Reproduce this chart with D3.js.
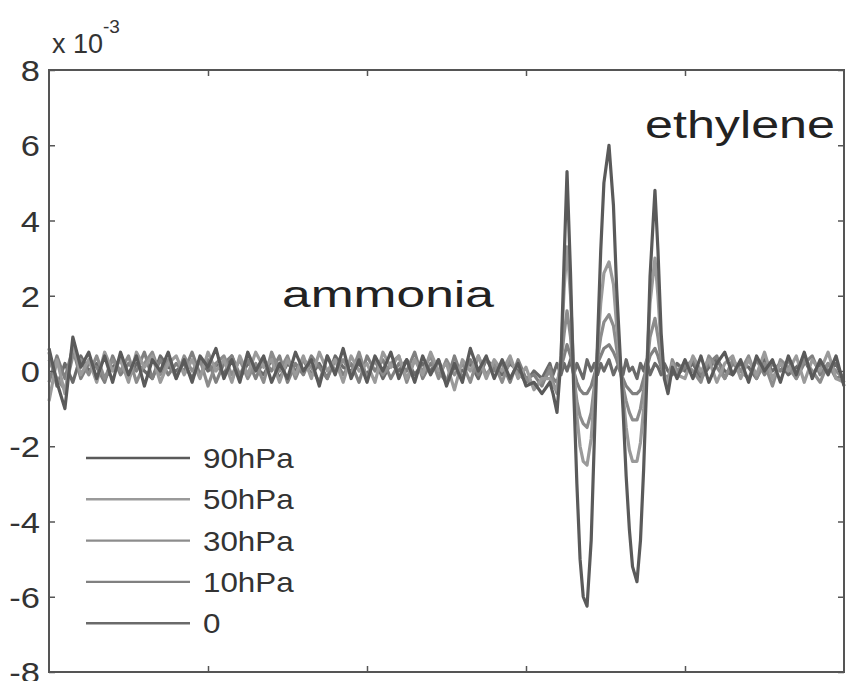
<!DOCTYPE html>
<html><head><meta charset="utf-8">
<script src="https://cdn.jsdelivr.net/npm/d3@7"></script>
<style>body{margin:0;background:#fff}svg{display:block}text{font-family:"Liberation Sans",Arial,sans-serif}</style>
</head><body>
<svg id="c" width="846" height="681"></svg>
<script>
// x sampling grid (arbitrary units; x tick labels are cut off in the reference)
const xs = [
0,0.05,0.1,0.15,0.2,0.25,0.3,0.35,
0.4,0.45,0.5,0.55,0.6,0.65,0.7,0.75,
0.8,0.85,0.9,0.95,1,1.05,1.1,1.15,
1.2,1.25,1.3,1.35,1.4,1.45,1.5,1.55,
1.6,1.65,1.7,1.75,1.8,1.85,1.9,1.95,
2,2.05,2.1,2.15,2.2,2.25,2.3,2.35,
2.4,2.45,2.5,2.55,2.6,2.65,2.7,2.75,
2.8,2.85,2.9,2.95,3,3.05,3.1,3.15,
3.17,3.195,3.22,3.24,3.258,3.28,3.3,3.32,
3.34,3.36,3.384,3.41,3.43,3.45,3.47,3.49,
3.522,3.55,3.57,3.59,3.61,3.63,3.65,3.67,
3.698,3.72,3.74,3.76,3.78,3.811,3.83,3.85,
3.87,3.893,3.92,3.95,
4,4.05,4.1,4.15,4.2,4.25,4.3,4.35,
4.4,4.45,4.5,4.55,4.6,4.65,4.7,4.75,
4.8,4.85,4.9,4.95,5];

// signal values, x 10^-3
const s90 = [
0.6,-0.3,-1.0,0.9,0.1,0.5,-0.2,0.4,
-0.3,0.5,-0.1,0.4,-0.4,0.3,0.0,0.5,
-0.2,0.3,-0.3,0.4,0.1,0.6,-0.2,0.3,
-0.3,0.5,0.0,0.4,-0.3,0.2,-0.2,0.5,
0.0,0.3,-0.4,0.4,-0.1,0.6,-0.2,0.3,
-0.3,0.4,0.0,0.5,-0.2,0.3,-0.3,0.4,
-0.1,0.3,-0.4,0.2,-0.3,0.6,0.0,0.4,
-0.2,0.3,-0.2,0.2,-0.4,-0.3,-0.6,-0.3,
-0.6,-1.1,0.3,3.0,5.3,2.6,-0.5,-3.0,
-5.0,-6.0,-6.25,-4.5,-1.8,0.8,3.2,5.0,
6.0,4.4,2.2,0.6,-1.0,-2.8,-4.2,-5.2,
-5.6,-4.5,-2.6,-0.2,2.5,4.8,3.2,1.0,
-0.2,-0.6,0.1,-0.2,
0.3,-0.2,0.4,-0.3,0.2,0.5,-0.1,0.3,
-0.3,0.4,0.0,0.3,-0.3,0.4,-0.1,0.5,
-0.2,0.3,-0.1,0.4,-0.4];
const s50 = [
-0.8,0.3,-0.6,0.7,-0.1,0.3,-0.3,0.5,
0.0,0.3,-0.3,0.5,0.1,0.4,-0.3,0.2,
0.4,-0.1,0.3,-0.2,0.5,0.0,0.3,-0.3,
0.4,-0.1,0.5,0.1,0.3,-0.3,0.3,-0.1,
0.4,-0.2,0.5,0.0,0.3,-0.3,0.4,0.0,
0.2,-0.3,0.5,0.1,0.4,-0.2,0.3,-0.1,
0.5,0.0,0.2,-0.5,0.3,0.0,0.4,-0.2,
0.3,0.0,0.4,-0.2,0.1,-0.5,-0.2,-0.2,
-0.4,-0.5,0.4,2.2,3.3,2.0,0.1,-1.2,
-2.0,-2.4,-2.5,-1.8,-0.6,0.6,1.8,2.6,
2.9,2.3,1.2,0.3,-0.6,-1.5,-2.1,-2.4,
-2.4,-1.9,-1.0,0.2,1.8,3.0,2.0,0.6,
-0.1,-0.4,0.2,-0.1,
-0.2,0.4,0.0,0.3,-0.3,0.2,0.4,-0.2,
0.3,-0.1,0.5,-0.2,0.2,0.0,0.4,-0.3,
0.3,0.0,0.5,-0.2,-0.3];
const s30 = [
0.3,-0.2,-0.5,0.4,0.3,-0.1,0.4,-0.2,
0.3,0.0,0.4,-0.3,0.2,0.5,-0.1,0.3,
-0.2,0.4,0.0,0.3,-0.4,0.2,0.4,-0.1,
0.3,-0.2,0.2,-0.3,0.5,0.0,0.4,-0.2,
0.3,0.1,-0.3,0.4,0.0,0.3,-0.1,0.5,
-0.2,0.3,-0.1,0.2,0.4,-0.3,0.3,0.0,
0.4,-0.2,0.3,-0.1,0.2,-0.3,0.4,-0.1,
0.2,-0.3,0.3,-0.1,-0.2,-0.4,-0.3,0.0,
-0.3,-0.6,0.2,1.0,1.6,0.9,-0.1,-0.8,
-1.2,-1.4,-1.5,-1.1,-0.4,0.3,0.9,1.3,
1.5,1.2,0.6,0.1,-0.4,-0.8,-1.1,-1.3,
-1.3,-1.0,-0.5,0.1,0.9,1.4,0.9,0.3,
-0.1,-0.3,0.3,0.0,
0.2,0.0,-0.3,0.4,0.1,-0.2,0.3,0.0,
0.4,-0.2,0.2,-0.4,0.3,0.1,-0.2,0.3,
0.0,-0.3,0.2,0.0,-0.2];
const s10 = [
-0.3,0.4,-0.2,0.6,-0.2,0.2,0.1,-0.3,
0.4,-0.1,0.2,0.0,0.5,-0.2,0.3,-0.1,
0.2,0.0,0.5,-0.1,0.3,-0.3,0.2,0.4,
-0.1,0.3,-0.2,0.3,0.0,0.4,-0.3,0.2,
-0.1,0.4,0.1,-0.2,0.3,-0.1,0.2,-0.3,
0.4,0.0,0.3,-0.2,0.2,0.0,0.5,-0.2,
0.2,0.0,-0.3,0.4,-0.2,0.3,-0.1,0.3,
0.0,0.2,-0.3,0.3,-0.2,-0.1,-0.4,0.1,
-0.2,-0.3,0.1,0.4,0.7,0.4,0.0,-0.3,
-0.5,-0.6,-0.6,-0.4,-0.1,0.2,0.4,0.6,
0.7,0.5,0.3,0.0,-0.2,-0.4,-0.5,-0.6,
-0.6,-0.5,-0.2,0.1,0.4,0.6,0.4,0.1,
-0.1,-0.2,0.2,-0.1,
0.1,0.3,-0.1,0.2,0.4,-0.2,0.2,0.0,
-0.2,0.3,-0.1,0.2,0.0,0.3,-0.2,0.2,
0.4,-0.1,0.2,-0.2,-0.1];
const s0 = [
0.5,-0.4,0.2,-0.3,0.4,0.0,0.2,-0.2,
0.1,0.3,-0.2,0.2,0.0,-0.2,0.4,0.1,
0.0,0.2,-0.2,0.3,0.0,0.2,-0.1,0.4,
-0.2,0.2,0.1,-0.1,0.3,-0.2,0.2,0.0,
0.3,-0.1,0.2,-0.2,0.4,0.1,0.0,0.2,
-0.1,0.3,-0.2,0.2,0.0,0.3,-0.1,0.2,
0.0,0.3,-0.3,0.1,0.0,0.2,-0.2,0.3,
0.1,-0.1,0.2,0.0,-0.3,0.0,-0.2,0.2,
-0.1,0.2,-0.1,0.2,0.0,0.3,-0.1,0.2,
0.0,-0.2,0.3,0.0,0.2,-0.1,0.2,0.0,
0.3,-0.1,0.1,0.2,-0.1,0.3,0.0,0.1,
-0.2,0.2,0.0,0.3,-0.1,0.2,0.1,-0.1,
0.2,0.0,-0.1,0.2,
0.0,0.2,-0.2,0.1,0.3,0.0,-0.1,0.2,
0.1,-0.2,0.3,0.0,0.2,-0.1,0.1,0.3,
-0.1,0.2,0.0,0.2,-0.3];

const seriesNames = ["90hPa","50hPa","30hPa","10hPa","0"];
const seriesData = [s90, s50, s30, s10, s0];
const seriesColors = ["#5a5a5a","#9a9a9a","#8c8c8c","#808080","#6a6a6a"];
const yTicks = [-8,-6,-4,-2,0,2,4,6,8];
const xTicks = [1,2,3,4];
const annotations = ["ammonia", "ethylene"];

const svg = d3.select("#c");
const L=49, R=844, T=70, B=672;
const x = d3.scaleLinear().domain([0,5]).range([L,R]);
const y = d3.scaleLinear().domain([-8,8]).range([B,T]);

// lines (draw lowest pressure first)
const line = d3.line().x((d,i)=>x(xs[i])).y(d=>y(d));
const order = [4,3,2,1,0];
svg.append("g").selectAll("path").data(order).join("path")
  .attr("d", i=>line(seriesData[i]))
  .attr("fill","none").attr("stroke", i=>seriesColors[i])
  .attr("stroke-width",3.2).attr("stroke-linejoin","round");

// frame
svg.append("rect").attr("x",L).attr("y",T).attr("width",R-L).attr("height",B-T)
  .attr("fill","none").attr("stroke","#555").attr("stroke-width",2);

// ticks via axes (inward)
const axL = d3.axisRight(y).tickValues(yTicks).tickSize(6).tickFormat("");
const axR = d3.axisLeft(y).tickValues(yTicks).tickSize(6).tickFormat("");
const axT = d3.axisBottom(x).tickValues(xTicks).tickSize(6).tickFormat("");
const axB = d3.axisTop(x).tickValues(xTicks).tickSize(6).tickFormat("");
[[axL,`translate(${L},0)`],[axR,`translate(${R},0)`],[axT,`translate(0,${T})`],[axB,`translate(0,${B})`]].forEach(([a,t])=>{
  const g = svg.append("g").attr("transform",t).call(a);
  g.select(".domain").remove();
  g.selectAll("line").attr("stroke","#555").attr("stroke-width",1.5);
});

// y labels
svg.append("g").selectAll("text").data(yTicks).join("text")
  .attr("transform", d=>`translate(40,${y(d)+11}) scale(1.15,1)`)
  .attr("text-anchor","end").attr("font-size",30).attr("fill","#333")
  .text(d=>d<0? "-"+Math.abs(d) : String(d));

// exponent label
const ex = svg.append("text").attr("x",52).attr("y",53).attr("font-size",27).attr("fill","#333");
ex.append("tspan").text("x 10");
ex.append("tspan").attr("dy",-20).attr("font-size",19).text("-3");

// annotations
svg.append("text").attr("x",282).attr("y",307).attr("font-size",37).attr("fill","#222")
  .attr("textLength",212).attr("lengthAdjust","spacingAndGlyphs").text(annotations[0]);
svg.append("text").attr("x",645).attr("y",138).attr("font-size",38).attr("fill","#222")
  .attr("textLength",190).attr("lengthAdjust","spacingAndGlyphs").text(annotations[1]);

// legend
const lg = svg.append("g");
seriesNames.forEach((n,i)=>{
  const yy = 458 + i*41.3;
  lg.append("line").attr("x1",86).attr("x2",190).attr("y1",yy).attr("y2",yy)
    .attr("stroke",seriesColors[i]).attr("stroke-width",2.4);
  lg.append("text").attr("transform",`translate(203,${yy+10}) scale(1.12,1)`)
    .attr("font-size",28).attr("fill","#333").text(n);
});
</script>
</body></html>
